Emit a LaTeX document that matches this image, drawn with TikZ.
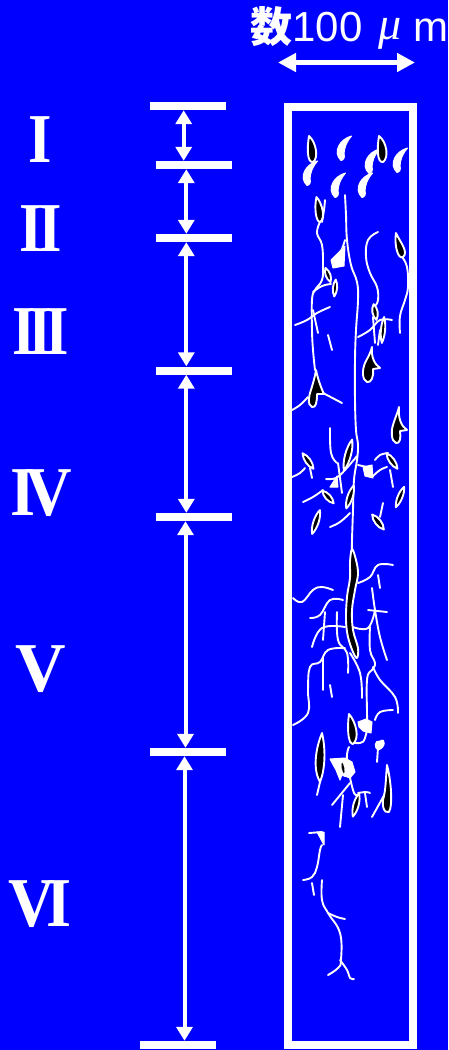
\documentclass[tikz,border=0pt]{standalone}
\usepackage{fontspec}
\usepackage{graphicx}
\usetikzlibrary{arrows.meta}
\newfontfamily\numfont{Liberation Serif}
\newfontfamily\labelfont{Liberation Sans}
\newfontfamily\greekfont{Liberation Serif}
\newfontfamily\cjkfont{Noto Sans CJK JP}
\definecolor{bgblue}{RGB}{0,0,255}

\tikzset{
  numeral/.style={text=white, inner sep=0pt, font=\numfont\bfseries\fontsize{70}{70}\selectfont},
  bar/.style={fill=white, inner sep=0pt, minimum width=76pt, minimum height=8pt},
  dim/.style={draw=white, line width=4pt, {Triangle[width=16pt,length=14pt]}-{Triangle[width=16pt,length=14pt]}},
  scalearrow/.style={draw=white, line width=5pt, {Triangle[width=18pt,length=18pt]}-{Triangle[width=18pt,length=18pt]}},
  frame/.style={draw=white, line width=8pt},
  crack/.style={draw=white, line width=1.9pt, line cap=round, line join=round},
  thorn/.style={fill=black, draw=white, line width=1.9pt, line join=round},
  chip/.style={fill=white, draw=white, line width=1pt, line join=round},
  claw/.pic={\filldraw[chip] (7.5,-12) .. controls (-4,-9) and (-12,4) .. (-3,12.5)
      .. controls (0,12) and (1,9) .. (0,6) .. controls (0,0) and (3,-7) .. (7.5,-12) -- cycle;},
  lens/.pic={\filldraw[thorn] (0,-1) .. controls (0.7,-0.45) and (0.7,0.45) .. (0,1)
      .. controls (-0.7,0.45) and (-0.7,-0.45) .. (0,-1) -- cycle;}
}

\begin{document}
\begin{tikzpicture}[x=1pt,y=-1pt]
\useasboundingbox (0,0) rectangle (448,1050);
\fill[bgblue] (0,0) rectangle (448,1050);

% ---- zone numerals
\node[numeral] (n1) at (40.5,140)   {\scalebox{0.86}[1]{I}};
\node[numeral] (n2) at (40.5,229)   {\scalebox{0.86}[1]{I\kern-5.8pt I}};
\node[numeral] (n3) at (40.5,331.5) {\scalebox{0.86}[1]{I\kern-8pt I\kern-8pt I}};
\node[numeral] (n4) at (41,493)     {\scalebox{0.92}[1]{I\kern-11pt V}};
\node[numeral] (n5) at (40.5,669.5) {V};
\node[numeral] (n6) at (40,904)     {\scalebox{0.92}[1]{V\kern-9pt I}};

% ---- boundary bars
\node[bar] (b1) at (188,106) {};
\node[bar] (b2) at (194,165) {};
\node[bar] (b3) at (194,238) {};
\node[bar] (b4) at (194,370.5) {};
\node[bar] (b5) at (194,517) {};
\node[bar] (b6) at (188,752) {};
\node[bar] (b7) at (178,1045) {};

\coordinate (v1) at (183.7,0);
\coordinate (v2) at (186.3,0);
\coordinate (v3) at (186.3,0);
\coordinate (v4) at (186.3,0);
\coordinate (v5) at (185.5,0);
\coordinate (v6) at (184.5,0);

\draw[dim] (v1 |- b1.south) -- (v1 |- b2.north);
\draw[dim] (v2 |- b2.south) -- (v2 |- b3.north);
\draw[dim] (v3 |- b3.south) -- (v3 |- b4.north);
\draw[dim] (v4 |- b4.south) -- (v4 |- b5.north);
\draw[dim] (v5 |- b5.south) -- (v5 |- b6.north);
\draw[dim] (v6 |- b6.south) -- (v6 |- b7.north);

% ---- scale label
\node[text=white, inner sep=0pt, font=\cjkfont\bfseries\fontsize{42}{42}\selectfont] (kazu) at (271.5,26.5) {数};
\node[text=white, inner sep=0pt, font=\labelfont\fontsize{42}{42}\selectfont] (hund) at (327.5,27) {100};
\node[text=white, inner sep=0pt, font=\greekfont\itshape\fontsize{46}{46}\selectfont] (mu) at (390.5,34) {μ};
\node[text=white, inner sep=0pt, font=\labelfont\fontsize{42}{42}\selectfont] (unit) at (431,30) {m};
\coordinate (sL) at (278,62.5);
\coordinate (sR) at (415,62.5);
\draw[scalearrow] (sL) -- (sR);

% ---- specimen frame
\draw[frame] (288,106.5) rectangle (412.5,1044.5);

% ---- surface chips (white crescents)
\pic at (344,148) {claw};
\pic at (372,161) {claw};
\pic at (365,185) {claw};
\pic at (400,160) {claw};
\pic at (310,173) {claw};
\pic at (338,185) {claw};

% ---- crack network
\draw[crack] plot[smooth, tension=0.7] coordinates {(345,195) (346,215) (347,240) (351,265) (357,282) (358,300) (356,330) (355,360) (355,400) (356,430) (358,445) (357,460) (354,480) (353,510) (352,540) (352,550)};
\draw[crack] plot[smooth, tension=0.7] coordinates {(320,222) (317,233) (322,245) (323,265) (322,280) (315,290) (312,300) (312,330) (313,350) (315,370)};
\draw[crack] plot[smooth, tension=0.7] coordinates {(325,200) (324,210) (322,222)};
\draw[crack] plot[smooth, tension=0.7] coordinates {(345,240) (340,253) (332,260)};
\draw[crack] plot[smooth, tension=0.7] coordinates {(313,292) (322,286) (331,284)};
\draw[crack] plot[smooth, tension=0.7] coordinates {(378,232) (368,240) (366,257) (370,273) (377,287) (378,300) (375,306)};
\draw[crack] plot[smooth, tension=0.7] coordinates {(402,257) (407,267) (408,287) (405,300) (400,316) (400,333)};
\draw[crack] plot[smooth, tension=0.7] coordinates {(295,325) (307,320) (317,313) (330,307)};
\draw[crack] (313,310) -- (318,333);
\draw[crack] (328,335) -- (332,350);
\draw[crack] plot[smooth, tension=0.7] coordinates {(292,410) (300,405) (308,397)};
\draw[crack] (323,393) -- (342,403);
\draw[crack] plot[smooth, tension=0.7] coordinates {(358,337) (370,330) (380,320) (392,320)};
\draw[crack] (373,317) -- (375,343);
\draw[crack] (380,330) -- (378,345);
\draw[crack] plot[smooth, tension=0.7] coordinates {(330,428) (331,453) (337,463)};
\draw[crack] plot[smooth, tension=0.7] coordinates {(292,477) (300,473) (305,468)};
\draw[crack] (310,468) -- (312,478);
\draw[crack] plot[smooth, tension=0.7] coordinates {(303,502) (313,497) (323,490)};
\draw[crack] (338,463) -- (342,493);
\draw[crack] plot[smooth, tension=0.7] coordinates {(326,479) (336,478) (345,470) (357,456)};
\draw[crack] plot[smooth, tension=0.7] coordinates {(375,460) (380,455) (388,453)};
\draw[crack] plot[smooth, tension=0.7] coordinates {(372,477) (380,470) (387,467)};
\draw[crack] (390,470) -- (393,487);
\draw[crack] (383,503) -- (380,517);
\draw[crack] plot[smooth, tension=0.7] coordinates {(330,527) (340,522) (350,513)};
\draw[crack] (358,465) -- (367,467);

\draw[crack] plot[smooth, tension=0.7] coordinates {(358,583) (370,577) (378,565) (393,565)};
\draw[crack] (378,575) -- (380,588);
\draw[crack] plot[smooth, tension=0.7] coordinates {(293,598) (302,602) (313,590) (322,587) (333,590)};
\draw[crack] plot[smooth, tension=0.7] coordinates {(372,588) (375,610) (380,637) (387,660)};
\draw[crack] plot[smooth, tension=0.7] coordinates {(310,618) (320,615) (330,600) (343,600)};
\draw[crack] (325,612) -- (323,640);
\draw[crack] plot[smooth, tension=0.7] coordinates {(337,612) (338,640) (347,653) (348,673)};
\draw[crack] (368,610) -- (387,612);
\draw[crack] plot[smooth, tension=0.7] coordinates {(353,627) (368,628) (375,610)};
\draw[crack] plot[smooth, tension=0.7] coordinates {(312,647) (322,628) (345,627)};
\draw[crack] plot[smooth, tension=0.7] coordinates {(345,648) (328,650) (320,662) (310,667) (308,690) (308,713) (293,725)};
\draw[crack] (323,657) -- (323,690);
\draw[crack] (330,685) -- (332,697);
\draw[crack] plot[smooth, tension=0.7] coordinates {(350,653) (360,673) (362,698)};
\draw[crack] plot[smooth, tension=0.7] coordinates {(370,627) (370,650) (375,663) (372,670) (367,680) (367,723) (365,738) (360,743) (350,742)};
\draw[crack] plot[smooth, tension=0.7] coordinates {(373,667) (380,680) (395,697) (398,713)};
\draw[crack] plot[smooth, tension=0.7] coordinates {(375,720) (380,712) (393,710)};
\draw[crack] plot[smooth, tension=0.7] coordinates {(349,747) (347,760) (353,790) (357,795)};
\draw[crack] (350,783) -- (332,805);
\draw[crack] (343,795) -- (340,827);
\draw[crack] plot[smooth, tension=0.7] coordinates {(358,793) (366,792) (370,793)};
\draw[crack] (365,793) -- (367,807);
\draw[crack] (387,790) -- (372,817);
\draw[crack] (320,782) -- (317,795);

\draw[crack] plot[smooth, tension=0.7] coordinates {(309,833) (322,832)};
\draw[crack] plot[smooth, tension=0.7] coordinates {(322,845) (320,850) (317,867) (312,877) (303,880)};
\draw[crack] (312,883) -- (314,895);
\draw[crack] plot[smooth, tension=0.7] coordinates {(322,880) (322,900) (328,913) (340,933) (341,960) (338,968) (328,975)};
\draw[crack] plot[smooth, tension=0.7] coordinates {(328,913) (337,917) (345,919)};
\draw[crack] plot[smooth, tension=0.7] coordinates {(340,960) (347,970) (350,978) (354,979)};

% ---- white debris
\filldraw[chip] (331,260) -- (339,252) -- (345,246) -- (344,266) -- (333,268) -- cycle;
\filldraw[chip] (330,487) -- (337,476) -- (338,487) -- cycle;
\filldraw[chip] (363,467) -- (372,465) -- (373,478) -- (365,476) -- cycle;
\filldraw[chip] (358,722) -- (366,719) -- (372,722) -- (371,733) -- (363,731) -- (359,727) -- cycle;
\filldraw[chip] (380,741) .. controls (386,737) and (386,748) .. (378,750) .. controls (374,748) and (374,740) .. (380,741) -- cycle;
\draw[crack] (378,748) -- (377,762);
\filldraw[chip] (317,832) -- (324,832) -- (324,845) -- cycle;
\filldraw[chip] (330,759) -- (345,758) -- (352,762) -- (355,772) -- (350,778) -- (342,775) -- (340,780) -- (336,770) -- cycle;

% ---- black cavities
\filldraw[thorn] (309,136) .. controls (316,142) and (319,158) .. (313,162) .. controls (307,163) and (307,148) .. (309,136) -- cycle;
\filldraw[thorn] (379,136) .. controls (387,142) and (389,158) .. (383,162) .. controls (377,163) and (377,148) .. (379,136) -- cycle;
\filldraw[thorn] (316.5,197) .. controls (322,203) and (326,218) .. (320,222) .. controls (316,222) and (314,208) .. (316.5,197) -- cycle;
\filldraw[thorn] (396,233) .. controls (400,242) and (409,252) .. (403,257) .. controls (398,260) and (394,245) .. (396,233) -- cycle;
\filldraw[thorn] (316,370) .. controls (318,380) and (322,390) .. (324,394) -- (317,394) .. controls (317,402) and (316,408) .. (312,407) .. controls (307,405) and (309,395) .. (311,390) .. controls (313,383) and (315,377) .. (316,370) -- cycle;
\filldraw[thorn] (372,347) .. controls (371,356) and (374,364) .. (380,368) -- (373,369) .. controls (374,377) and (371,383) .. (367,382) .. controls (362,380) and (362,370) .. (365,363) .. controls (368,357) and (371,352) .. (372,347) -- cycle;
\filldraw[thorn] (399,407) .. controls (398,418) and (401,426) .. (407,430) -- (400,431) .. controls (401,438) and (400,444) .. (396,443) .. controls (391,441) and (391,431) .. (393,425) .. controls (395,418) and (398,412) .. (399,407) -- cycle;
\pic[rotate=20, xscale=4.5, yscale=7.5] at (328,275) {lens};
\pic[rotate=-5, xscale=4, yscale=8.5] at (335,288) {lens};
\pic[rotate=10, xscale=5, yscale=8] at (375,312) {lens};
\pic[rotate=-5, xscale=4, yscale=13] at (383,330) {lens};
\pic[rotate=-15, xscale=5.5, yscale=16] at (348,455) {lens};
\pic[rotate=35, xscale=5, yscale=9.5] at (308,461) {lens};
\pic[rotate=42, xscale=5, yscale=8.5] at (328,497) {lens};
\pic[rotate=-18, xscale=5, yscale=12] at (350,497) {lens};
\pic[rotate=35, xscale=5, yscale=9.5] at (392,461) {lens};
\pic[rotate=-22, xscale=4.5, yscale=11] at (400,497) {lens};
\pic[rotate=38, xscale=5.5, yscale=9.5] at (378,522) {lens};
\pic[rotate=-18, xscale=5, yscale=12.5] at (316,522) {lens};
\filldraw[thorn] plot[smooth cycle, tension=0.6] coordinates {(352,549) (356,560) (358,574) (355,590) (352,610) (353,630) (358,648) (357,658) (353,652) (348,637) (346,620) (347,597) (350,578) (350,562)};
\filldraw[thorn] (349,714) .. controls (356,722) and (360,738) .. (353,744) .. controls (348,744) and (347,728) .. (349,714) -- cycle;
\filldraw[thorn] (322,733) .. controls (326,750) and (325,770) .. (320,782) .. controls (313,770) and (315,750) .. (322,733) -- cycle;
\filldraw[thorn] (387,765) .. controls (391,780) and (393,805) .. (389,812) .. controls (384,814) and (381,805) .. (384,796) .. controls (386,786) and (386,775) .. (387,765) -- cycle;
\pic[rotate=-15, xscale=5, yscale=12] at (356,805) {lens};
\pic[rotate=10, xscale=4.5, yscale=8] at (343,768) {lens};
\end{tikzpicture}
\end{document}
